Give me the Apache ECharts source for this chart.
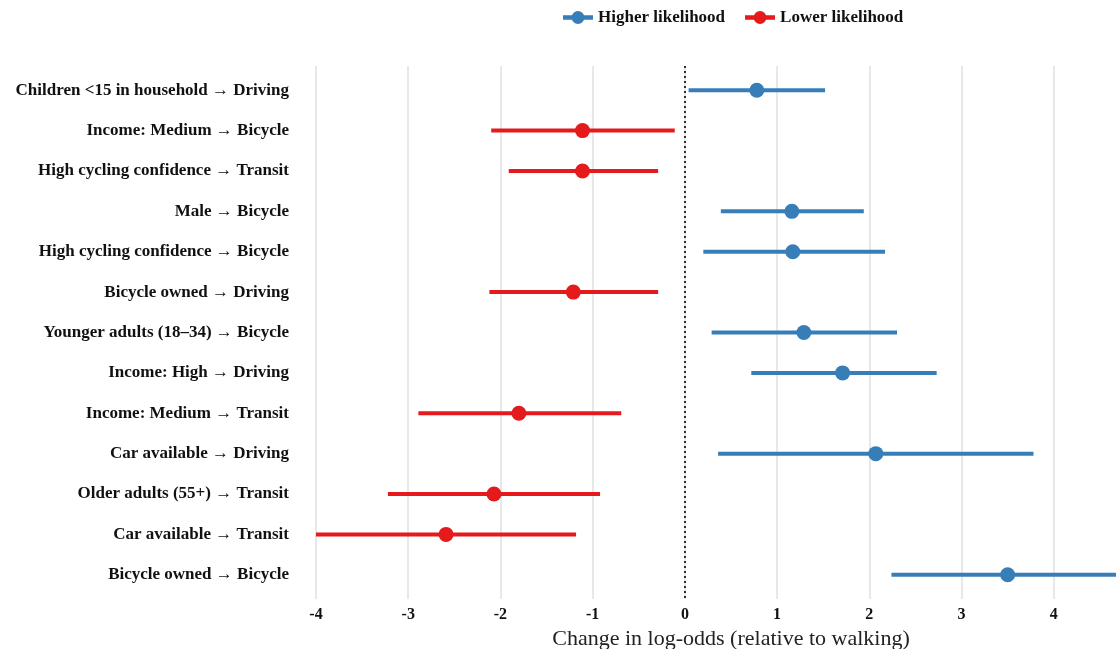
<!DOCTYPE html>
<html>
<head>
<meta charset="utf-8">
<script src="https://cdn.jsdelivr.net/npm/echarts@6/dist/echarts.min.js"></script>
<style>html,body{margin:0;padding:0;background:#fff}#c{width:1116px;height:649px}</style>
</head>
<body>
<div id="c"></div>
<script>
const categories = [
  'Children <15 in household \u2192 Driving',
  'Income: Medium \u2192 Bicycle',
  'High cycling confidence \u2192 Transit',
  'Male \u2192 Bicycle',
  'High cycling confidence \u2192 Bicycle',
  'Bicycle owned \u2192 Driving',
  'Younger adults (18\u201334) \u2192 Bicycle',
  'Income: High \u2192 Driving',
  'Income: Medium \u2192 Transit',
  'Car available \u2192 Driving',
  'Older adults (55+) \u2192 Transit',
  'Car available \u2192 Transit',
  'Bicycle owned \u2192 Bicycle'
];
const estimates = [0.78, -1.11, -1.11, 1.16, 1.17, -1.21, 1.29, 1.71, -1.80, 2.07, -2.07, -2.59, 3.50];
const lowers    = [0.04, -2.10, -1.91, 0.39, 0.20, -2.12, 0.29, 0.72, -2.89, 0.36, -3.22, -4.00, 2.24];
const uppers    = [1.52, -0.11, -0.29, 1.94, 2.17, -0.29, 2.30, 2.73, -0.69, 3.78, -0.92, -1.18, 4.80];
const xTicks = [-4, -3, -2, -1, 0, 1, 2, 3, 4];

const BLUE = '#377EB8', RED = '#E41A1C';
const FONT = "'Liberation Serif', 'Times New Roman', serif";

const hiBars = [], loBars = [], hiPts = [], loPts = [];
categories.forEach((c, i) => {
  const row = i + 1;
  const item = [lowers[i], uppers[i], estimates[i], row];
  if (estimates[i] >= 0) { hiBars.push(item); hiPts.push([estimates[i], row]); }
  else { loBars.push(item); loPts.push([estimates[i], row]); }
});

function barRenderer(color) {
  return function (params, api) {
    const p1 = api.coord([api.value(0), api.value(3)]);
    const p2 = api.coord([api.value(1), api.value(3)]);
    return {
      type: 'line',
      shape: { x1: p1[0], y1: p1[1], x2: p2[0], y2: p2[1] },
      style: { stroke: color, lineWidth: 4 }
    };
  };
}

const chart = echarts.init(document.getElementById('c'), null, { renderer: 'canvas' });
const iconPath = 'path://M0,6H28V10H0Z M14,2A6,6,0,1,1,13.99,2Z';
chart.setOption({
  backgroundColor: '#fff',
  animation: false,
  textStyle: { fontFamily: FONT },
  legend: {
    left: 558, top: 4,
    itemWidth: 30, itemHeight: 16, itemGap: 20,
    textStyle: { fontFamily: FONT, fontWeight: 'bold', fontSize: 17, color: '#111' },
    data: [
      { name: 'Higher likelihood', icon: iconPath, itemStyle: { color: BLUE } },
      { name: 'Lower likelihood', icon: iconPath, itemStyle: { color: RED } }
    ]
  },
  grid: { left: 316, top: 66, width: 830, height: 533, containLabel: false, outerBoundsMode: 'none' },
  xAxis: {
    type: 'value', min: -4, max: 5, interval: 1,
    axisLine: { show: false }, axisTick: { show: false },
    axisLabel: {
      margin: 8, color: '#111', fontFamily: FONT, fontWeight: 'bold', fontSize: 16,
      customValues: xTicks
    },
    splitLine: { show: true, lineStyle: { color: '#e8e8e8', width: 2 } },
    name: 'Change in log-odds (relative to walking)',
    nameLocation: 'middle', nameGap: 28,
    nameTextStyle: { fontFamily: FONT, fontSize: 22, color: '#222' }
  },
  yAxis: {
    type: 'value', min: 0.4, max: 13.6, inverse: true,
    axisLine: { show: false }, axisTick: { show: false },
    splitLine: { show: false },
    axisLabel: {
      customValues: categories.map((c, i) => i + 1),
      formatter: v => categories[Math.round(v) - 1] || '',
      margin: 27, color: '#111', fontFamily: FONT, fontWeight: 'bold', fontSize: 17
    }
  },
  series: [
    { name: 'Higher likelihood', type: 'custom', renderItem: barRenderer(BLUE), data: hiBars,
      encode: { x: [0, 1], y: 3 }, clip: true, itemStyle: { color: BLUE }, z: 3,
      markLine: {
        silent: true, symbol: 'none', label: { show: false },
        lineStyle: { color: '#000', type: [2, 3], width: 1.6 },
        data: [{ xAxis: 0 }]
      }
    },
    { name: 'Lower likelihood', type: 'custom', renderItem: barRenderer(RED), data: loBars,
      encode: { x: [0, 1], y: 3 }, clip: true, itemStyle: { color: RED }, z: 3 },
    { name: 'Higher likelihood', type: 'scatter', data: hiPts, symbol: 'circle', symbolSize: 15,
      itemStyle: { color: BLUE, opacity: 1 }, z: 4 },
    { name: 'Lower likelihood', type: 'scatter', data: loPts, symbol: 'circle', symbolSize: 15,
      itemStyle: { color: RED, opacity: 1 }, z: 4 }
  ]
});
</script>
</body>
</html>
